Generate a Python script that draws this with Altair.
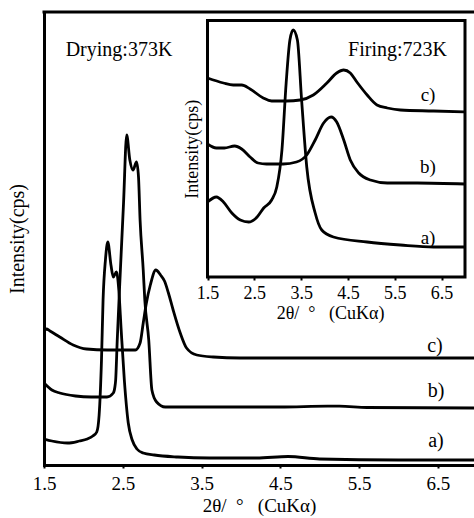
import altair as alt
import pandas as pd

FONT = "Liberation Serif"

# ---------------- main panel (Drying:373K) ----------------
main_a_t = [1.5, 1.6, 1.8, 1.95, 2.05, 2.12, 2.17, 2.2, 2.23, 2.25, 2.28, 2.31, 2.35, 2.38, 2.42, 2.45,
            2.48, 2.52, 2.57, 2.62, 2.68, 2.76, 2.9, 3.2, 3.6, 4.2, 4.6, 5.0, 6.0, 6.96]
main_a_v = [26, 24, 22, 24, 26, 29, 33, 50, 105, 165, 205, 223, 200, 188, 193, 175,
            135, 85, 42, 25, 16, 12, 10, 8, 7, 7, 8.5, 6, 5, 5]

main_b_t = [1.5, 1.6, 1.7, 1.9, 2.1, 2.3, 2.38, 2.4, 2.41, 2.43, 2.47, 2.51, 2.55, 2.59, 2.63, 2.675,
            2.7, 2.72, 2.76, 2.78, 2.83, 2.87, 2.93, 3.04, 3.5, 4.5, 5.1, 5.25, 5.6, 6.96]
main_b_v = [82, 75, 72, 69, 68, 68, 72, 78, 85, 125, 195, 262, 330, 305, 295, 303,
            288, 245, 195, 165, 125, 75, 63, 58, 58, 58, 58.8, 58.8, 57.5, 57]

main_c_t = [1.5, 1.53, 1.576, 1.7, 1.87, 2.04, 2.3, 2.55, 2.66, 2.72, 2.76, 2.8, 2.85, 2.92, 2.98,
            3.03, 3.08, 3.14, 3.23, 3.31, 3.44, 3.65, 3.99, 5.0, 6.96]
main_c_v = [133, 136, 134, 128, 120, 116, 115, 115, 115, 122, 142, 162, 180, 195, 190,
            184, 172, 155, 132, 117, 110, 108, 107, 107, 107]

# ---------------- inset (Firing:723K) ----------------
ins_a_t = [1.5, 1.69, 1.84, 2.02, 2.2, 2.38, 2.56, 2.7, 2.87, 2.98, 3.09, 3.18, 3.26, 3.33, 3.42,
           3.51, 3.62, 3.8, 3.94, 4.19, 4.91, 5.62, 6.33, 7.0]
ins_a_v = [75, 80, 75, 64, 57, 55, 60, 69, 77, 90, 127, 194, 237, 247, 237,
           177, 110, 64, 47, 40, 35, 32, 30, 30]

ins_b_t = [1.5, 1.69, 1.86, 2.08, 2.23, 2.41, 2.58, 2.76, 3.12, 3.4, 3.62, 3.8, 3.98, 4.14, 4.26,
           4.41, 4.55, 4.73, 4.98, 5.34, 5.98, 7.0]
ins_b_v = [133, 129, 129, 131, 128, 120, 114, 113, 113, 115, 122, 137, 154, 160, 155,
           137, 117, 104, 97, 94, 94, 93]

ins_c_t = [1.5, 1.84, 2.05, 2.23, 2.41, 2.69, 2.87, 3.19, 3.48, 3.76, 4.05, 4.26, 4.41, 4.55, 4.69,
           4.91, 5.12, 5.34, 5.62, 6.33, 7.0]
ins_c_v = [199, 194, 192, 192, 188, 179, 176, 176, 177, 182, 194, 204, 207, 204, 195,
           182, 172, 169, 167, 166, 165]

tick_values = [1.5, 2.5, 3.5, 4.5, 5.5, 6.5]
series_names = ["a)", "b)", "c)"]
MAIN_X_DOMAIN = [1.5, 6.96]
MAIN_Y_DOMAIN = [0, 453]
INSET_X_DOMAIN = [1.5, 7.0]
INSET_Y_DOMAIN = [0, 256.5]
x_title = "2θ/\u00a0\u00a0°\u00a0\u00a0\u00a0(CuKα)"


def table(ts, vs, name):
    return pd.DataFrame({"t": ts, "v": vs, "s": name})


main_df = pd.concat([table(main_a_t, main_a_v, "a)"),
                     table(main_b_t, main_b_v, "b)"),
                     table(main_c_t, main_c_v, "c)")])
inset_df = pd.concat([table(ins_a_t, ins_a_v, "a)"),
                      table(ins_b_t, ins_b_v, "b)"),
                      table(ins_c_t, ins_c_v, "c)")])

W, H = 430, 453
LW = 2.8

main_x = alt.X("t:Q", scale=alt.Scale(domain=MAIN_X_DOMAIN, nice=False, zero=False),
               axis=alt.Axis(values=tick_values, format=".1f", title=x_title,
                             labelFontSize=19, titleFontSize=19, tickSize=3, tickWidth=2,
                             domainWidth=3, domainCap="square", labelPadding=6, titlePadding=3,
                             labelFlush=False))
main_y = alt.Y("v:Q", scale=alt.Scale(domain=MAIN_Y_DOMAIN, nice=False, zero=False),
               axis=alt.Axis(labels=False, ticks=False, title="Intensity(cps)",
                             titleFontSize=20, domainWidth=3, domainCap="square", titlePadding=17))

main_lines = alt.Chart(main_df).mark_line(
    color="black", strokeWidth=LW, interpolate="monotone", clip=True
).encode(x=main_x, y=main_y, detail="s:N")

top_rule = alt.Chart(pd.DataFrame({"d": [0]})).mark_rule(
    color="black", strokeWidth=3, strokeCap="square"
).encode(x=alt.value(0), x2=alt.value(W), y=alt.value(0))

main_label_pos = {"c)": (391, 340), "b)": (392, 385), "a)": (392, 435)}
main_labels = [
    alt.Chart(pd.DataFrame({"d": [0]})).mark_text(
        text=n, font=FONT, fontSize=20, color="black", align="center", baseline="alphabetic"
    ).encode(x=alt.value(main_label_pos[n][0]), y=alt.value(main_label_pos[n][1]))
    for n in series_names
]
drying = alt.Chart(pd.DataFrame({"d": [0]})).mark_text(
    text="Drying:373K", font=FONT, fontSize=20, color="black", align="center", baseline="alphabetic"
).encode(x=alt.value(75), y=alt.value(44))

main_layer = alt.layer(main_lines, top_rule, drying, *main_labels)

# inset
ins_x_scale = alt.Scale(domain=INSET_X_DOMAIN, range=[163.5, 421], nice=False, zero=False)
ins_y_scale = alt.Scale(domain=INSET_Y_DOMAIN, range=[265, 8.5], nice=False, zero=False)
ins_x = alt.X("t:Q", scale=ins_x_scale,
              axis=alt.Axis(orient="bottom", offset=-188, values=tick_values, format=".1f",
                            title=x_title, labelFontSize=18, titleFontSize=18, tickSize=3,
                            tickWidth=2, domain=False, labelPadding=4, titlePadding=2,
                            titleX=286, labelFlush=False))
ins_y = alt.Y("v:Q", scale=ins_y_scale,
              axis=alt.Axis(orient="left", offset=-163.5, labels=False, ticks=False, domain=False,
                            title="Intensity(cps)", titleFontSize=18, titlePadding=6))

frame_df = pd.DataFrame({"t": [INSET_X_DOMAIN[0]], "t2": [INSET_X_DOMAIN[1]],
                         "v": [INSET_Y_DOMAIN[0]], "v2": [INSET_Y_DOMAIN[1]]})
ins_frame = alt.Chart(frame_df).mark_rect(
    fill="white", stroke="black", strokeWidth=3
).encode(x=ins_x, x2="t2:Q", y=ins_y, y2="v2:Q")

ins_lines = alt.Chart(inset_df).mark_line(
    color="black", strokeWidth=LW, interpolate="monotone"
).encode(x=ins_x, y=ins_y, detail="s:N")

ins_label_pos = {"c)": (384, 88.5), "b)": (384, 161), "a)": (384, 232)}
ins_labels = [
    alt.Chart(pd.DataFrame({"d": [0]})).mark_text(
        text=n, font=FONT, fontSize=19, color="black", align="center", baseline="alphabetic"
    ).encode(x=alt.value(ins_label_pos[n][0]), y=alt.value(ins_label_pos[n][1]))
    for n in series_names
]
firing = alt.Chart(pd.DataFrame({"d": [0]})).mark_text(
    text="Firing:723K", font=FONT, fontSize=20, color="black", align="center", baseline="alphabetic"
).encode(x=alt.value(353.5), y=alt.value(44))

inset_layer = alt.layer(ins_frame, ins_lines, firing, *ins_labels)

chart = alt.layer(main_layer, inset_layer).resolve_scale(
    x="independent", y="independent"
).properties(
    width=W, height=H,
    padding={"left": 44, "top": 12, "right": 0, "bottom": 53},
    autosize=alt.AutoSizeParams(type="none"),
    background="white",
).configure_view(stroke=None).configure_axis(
    labelFont=FONT, titleFont=FONT, labelColor="black", titleColor="black",
    domainColor="black", tickColor="black", grid=False, titleFontWeight="normal"
)

chart.save("out.html", embed_options={"renderer": "svg", "actions": False})
